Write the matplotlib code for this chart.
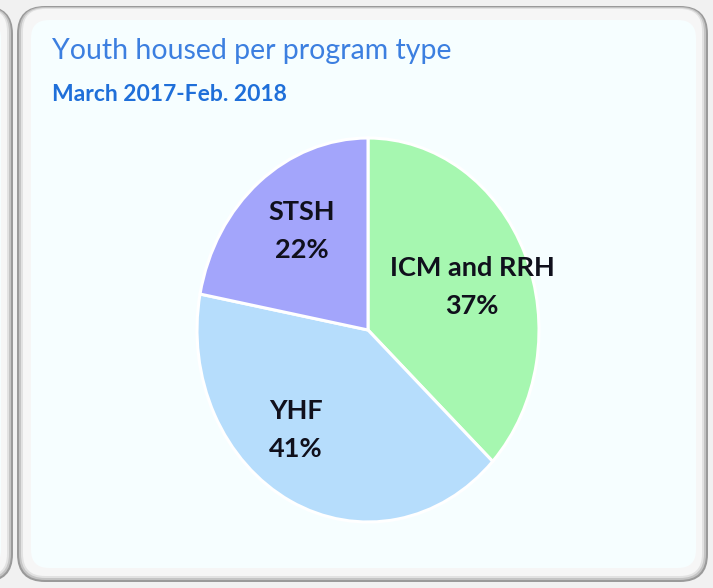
import matplotlib
matplotlib.use("Agg")
import matplotlib.pyplot as plt
from matplotlib.patches import FancyBboxPatch

# data
labels = ["ICM and RRH", "YHF", "STSH"]
shares = [37, 41, 22]
colors = ["#a6f7b0", "#b6ddfc", "#a3a5fb"]

title = "Youth housed per program type"
subtitle = "March 2017-Feb. 2018"

W, H = 713, 588
fig = plt.figure(figsize=(W / 100, H / 100), dpi=100)
fig.patch.set_facecolor("#f1f1f1")

# background layer in pixel coords
bg = fig.add_axes([0, 0, 1, 1])
bg.set_xlim(0, W)
bg.set_ylim(H, 0)
bg.axis("off")

def panel(x0, y0, x1, y1):
    # soft bevel: grey rim fading into a white ring, then the light face
    for pad, c in [(0, "#9a9a9a"), (2, "#c4c4c4"), (4, "#e2e2e2"), (6, "#f6f6f6")]:
        bg.add_patch(FancyBboxPatch((x0 + pad, y0 + pad * 0.5), x1 - x0 - 2 * pad, y1 - y0 - 1.5 * pad,
                                    boxstyle="round,pad=0,rounding_size=%d" % (28 - pad),
                                    fc=c, ec="none", zorder=2))
    bg.add_patch(FancyBboxPatch((x0 + 14, y0 + 14), x1 - x0 - 26, y1 - y0 - 28,
                                boxstyle="round,pad=0,rounding_size=18",
                                fc="#f6feff", ec="none", zorder=3))

panel(-300, 6, 13, 582)
panel(17, 6, 708, 582)

fig.text(52 / W, 1 - 51 / H, title, color="#3c7fe0", fontsize=20.5,
         family="Lato", va="center", ha="left")
fig.text(52 / W, 1 - 94 / H, subtitle, color="#1f6fd9", fontsize=16.5,
         family="Lato", fontweight="bold", va="center", ha="left")

# pie (slightly stretched vertically like the source)
cx, cy, rx, ry = 368, 330, 171, 192
ax = fig.add_axes([(cx - rx) / W, 1 - (cy + ry) / H, 2 * rx / W, 2 * ry / H])
ax.pie(shares, colors=colors, startangle=90, counterclock=False,
       wedgeprops=dict(edgecolor="white", linewidth=2.2))
ax.set_aspect("auto")
ax.set_xlim(-1, 1)
ax.set_ylim(-1, 1)
ax.axis("off")

def px(x, y):
    return ((x - cx) / rx, (cy - y) / ry)

label_pos = [(472, 268), (296, 411), (302, 212)]
for lab, val, (x, y) in zip(labels, shares, label_pos):
    lx, ly = px(x, y)
    ax.text(lx, ly, lab, ha="center", va="center", fontsize=19.5,
            family="Lato", fontweight="bold", color="#10101c")
    lx, ly = px(x, y + 38)
    ax.text(lx, ly, f"{val}%", ha="center", va="center", fontsize=19.5,
            family="Lato", fontweight="bold", color="#10101c")

fig.savefig("out.png", dpi=100, facecolor=fig.get_facecolor())
